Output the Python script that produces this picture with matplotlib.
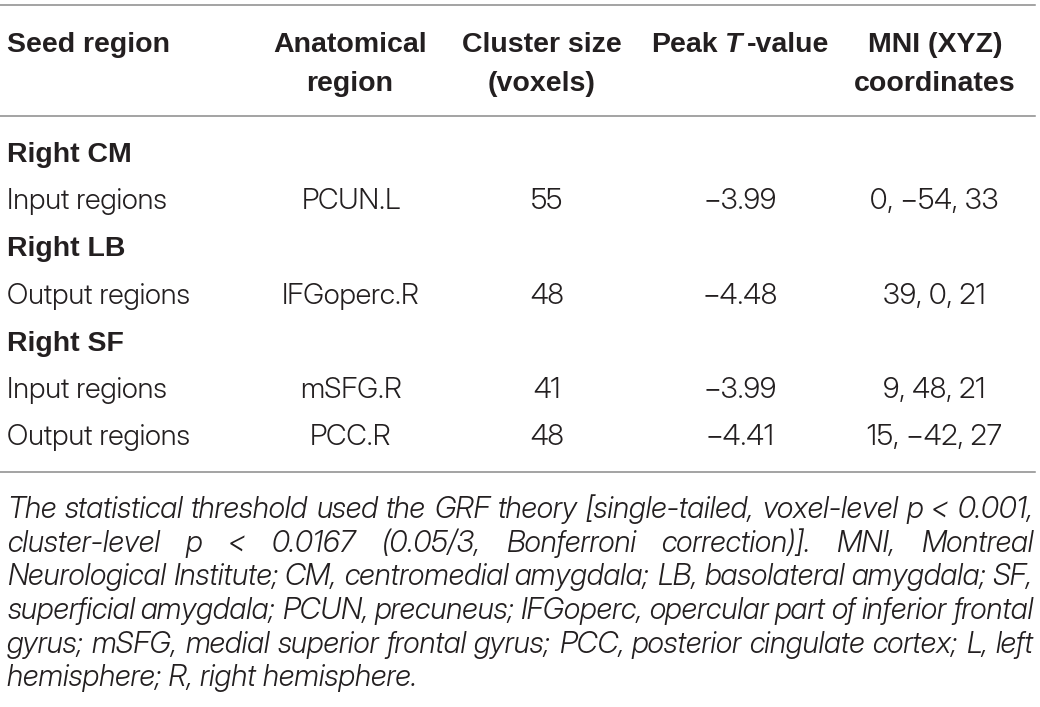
import matplotlib
matplotlib.use("Agg")
import matplotlib.pyplot as plt
from matplotlib.lines import Line2D

plt.rcParams['font.family'] = ['Liberation Sans', 'DejaVu Sans']

# table content
header_top = ["Seed region", "Anatomical", "Cluster size", None, "MNI (XYZ)"]
header_bottom = ["", "region", "(voxels)", "", "coordinates"]
row_labels = ["Right CM", "Input regions", "Right LB", "Output regions",
              "Right SF", "Input regions", "Output regions"]
group_rows = [True, False, True, False, True, False, False]
anatomical = ["", "PCUN.L", "", "IFGoperc.R", "", "mSFG.R", "PCC.R"]
cluster_size = ["", "55", "", "48", "", "41", "48"]
peak_t = ["", "\u22123.99", "", "\u22124.48", "", "\u22123.99", "\u22124.41"]
mni = ["", "0, \u221254, 33", "", "39, 0, 21", "", "9, 48, 21", "15, \u221242, 27"]

footnote = [
    "The statistical threshold used the GRF theory [single-tailed, voxel-level p < 0.001,",
    "cluster-level p < 0.0167 (0.05/3, Bonferroni correction)]. MNI, Montreal",
    "Neurological Institute; CM, centromedial amygdala; LB, basolateral amygdala; SF,",
    "superficial amygdala; PCUN, precuneus; IFGoperc, opercular part of inferior frontal",
    "gyrus; mSFG, medial superior frontal gyrus; PCC, posterior cingulate cortex; L, left",
    "hemisphere; R, right hemisphere.",
]

W, H = 1040, 707
ink = "#231f20"
rule = "#8a8a8a"
light = ["Inter Display", "Inter", "DejaVu Sans"]

fig = plt.figure(figsize=(W / 100, H / 100), dpi=100)
fig.patch.set_facecolor("white")
renderer = fig.canvas.get_renderer()


def put(x, y, s, ha="left", size=20, **kw):
    return fig.text(x / W, 1 - y / H, s, ha=ha, va="baseline",
                    color=ink, fontsize=size, **kw)


def width(t):
    return t.get_window_extent(renderer).width


def fit_size(s, target, **kw):
    t = put(0, 0, s, size=20, **kw)
    w = width(t)
    t.remove()
    return 20 * target / w


def hline(y, x0=0, x1=1035):
    fig.add_artist(Line2D([x0 / W, x1 / W], [1 - y / H] * 2,
                          transform=fig.transFigure, color=rule, lw=1.1))


body = dict(family=light, weight=300)
note = dict(family=light, weight=300, style="italic")
body_size = fit_size("Input regions", 160, **body)
note_size = fit_size("hemisphere; R, right hemisphere.", 410, **note)

# rules
hline(5)
hline(116)
hline(472)

# header
col_x = [7, 350, 542, 740, 935]
put(col_x[0], 52, header_top[0], weight="bold", size=20.5)
for i in (1, 2, 4):
    put(col_x[i], 52, header_top[i], ha="center", weight="bold", size=20.5)
    put(col_x[i], 91, header_bottom[i], ha="center", weight="bold", size=20.5)

# "Peak T-value" with italic T
runs = [("Peak", "normal"), (" ", "normal"), ("T", "italic"), ("-value", "normal")]
parts = []
for s, st in runs:
    if s == " ":
        a = put(0, 52, "a a", weight="bold", size=20.5)
        b = put(0, 52, "aa", weight="bold", size=20.5)
        sp = width(a) - width(b)
        a.remove(); b.remove()
        parts.append((None, sp))
    else:
        t = put(0, 52, s, weight="bold", size=20.5, style=st)
        w = width(t) + (4 if s == "T" else 0)
        parts.append((t, w))
total = sum(w for _, w in parts)
x = col_x[3] - total / 2
for t, w in parts:
    if t is not None:
        t.set_x(x / W)
    x += w

# body rows
val_x = [351, 547, 740, 934]
for i, lab in enumerate(row_labels):
    y = 162 + 47.2 * i
    if group_rows[i]:
        put(7, y, lab, weight="bold", size=20.5)
        continue
    put(7, y, lab, size=body_size, **body)
    for xc, col in zip(val_x, [anatomical, cluster_size, peak_t, mni]):
        put(xc, y, col[i], ha="center", size=body_size, **body)

# footnote, justified
x0, x1 = 7, 1033
for k, line in enumerate(footnote):
    y = 518 + 33.7 * k
    if k == len(footnote) - 1:
        put(x0, y, line, size=note_size, **note)
        continue
    words = line.split(" ")
    texts = [put(0, y, w_, size=note_size, **note) for w_ in words]
    widths = [width(t) for t in texts]
    gap = (x1 - x0 - sum(widths)) / (len(words) - 1)
    x = x0
    for t, w_ in zip(texts, widths):
        t.set_x(x / W)
        x += w_ + gap

fig.savefig("out.png", dpi=100, facecolor="white")
